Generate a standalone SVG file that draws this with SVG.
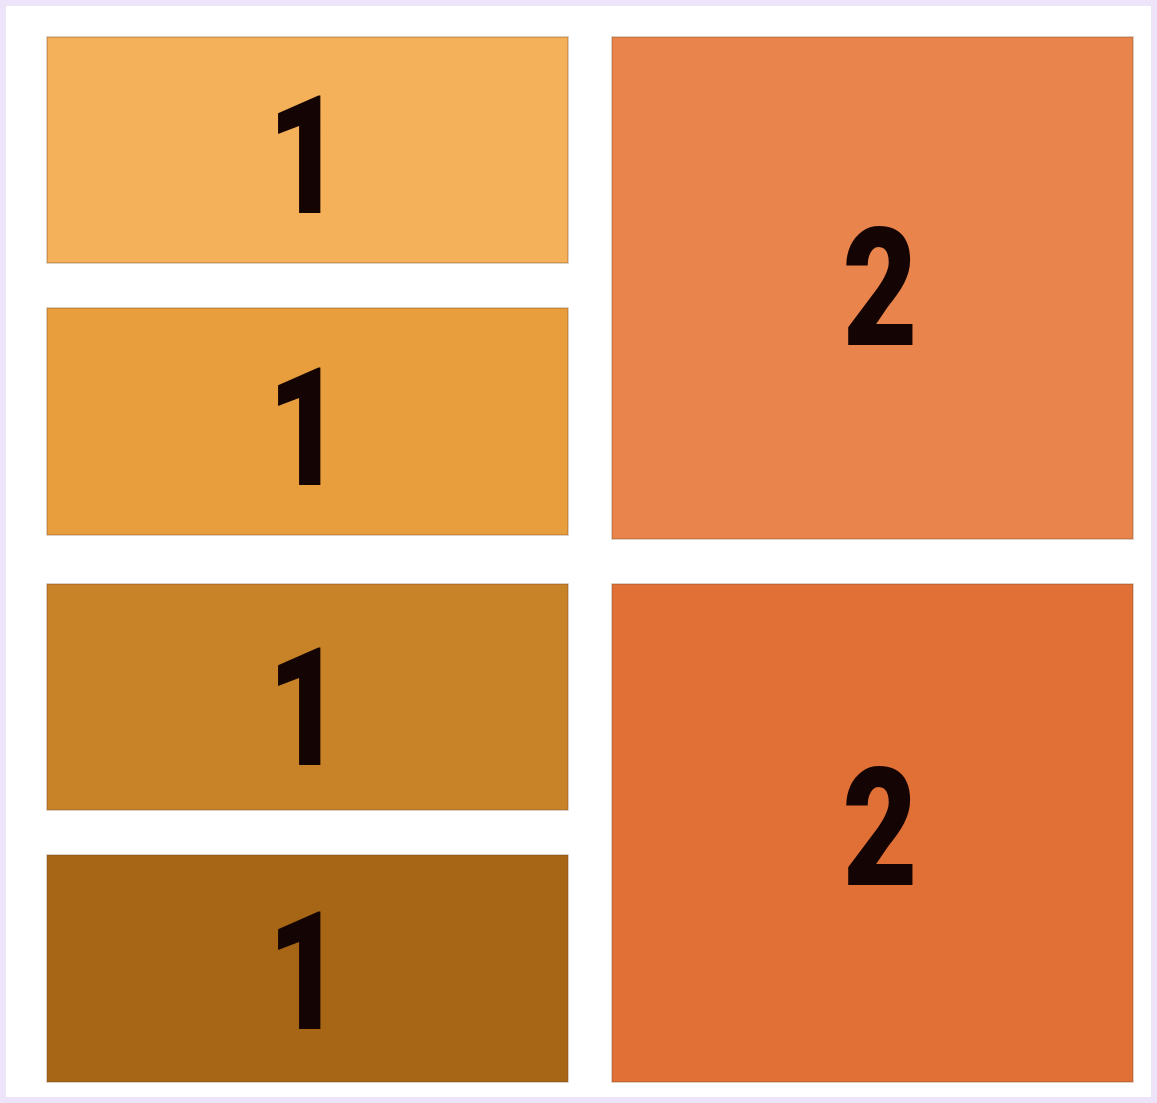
<svg xmlns="http://www.w3.org/2000/svg" width="1157" height="1103" viewBox="0 0 1157 1103">
<style>
.lbl{font-family:Roboto,"Liberation Sans",Arial,sans-serif;font-weight:900;font-size:166px;fill:#140404;text-anchor:middle}
.box{stroke-width:1.5;stroke-opacity:0.35;stroke:#7a4a20}
</style>
<rect x="0" y="0" width="1157" height="1103" fill="#EDE4FA"/>
<rect x="6" y="6" width="1145" height="1091" fill="#FFFFFF"/>
<g id="node-1a"><rect class="box" x="47" y="37" width="521" height="226" fill="#F5B15A"/><text class="lbl" transform="translate(305,213) scale(0.78,1)">1</text></g>
<g id="node-1b"><rect class="box" x="47" y="308" width="521" height="227" fill="#E99E3E"/><text class="lbl" transform="translate(305,485) scale(0.78,1)">1</text></g>
<g id="node-1c"><rect class="box" x="47" y="584" width="521" height="226" fill="#C88228"/><text class="lbl" transform="translate(305,765) scale(0.78,1)">1</text></g>
<g id="node-1d"><rect class="box" x="47" y="855" width="521" height="227" fill="#A66615"/><text class="lbl" transform="translate(305,1029) scale(0.78,1)">1</text></g>
<g id="node-2a"><rect class="box" x="612" y="37" width="521" height="502" fill="#E8844C"/><text class="lbl" transform="translate(880,345) scale(0.78,1)">2</text></g>
<g id="node-2b"><rect class="box" x="612" y="584" width="521" height="498" fill="#E07035"/><text class="lbl" transform="translate(880,885) scale(0.78,1)">2</text></g>
<g id="connectors"/>
</svg>
